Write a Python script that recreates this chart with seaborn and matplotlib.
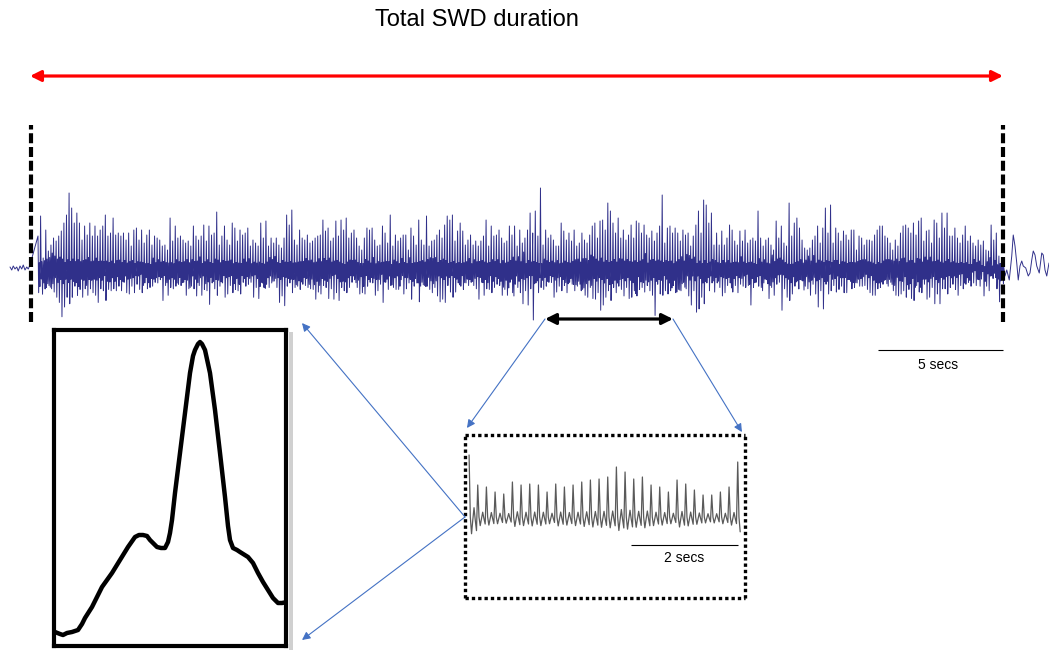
import numpy as np
import pandas as pd
import matplotlib
matplotlib.use("Agg")
import matplotlib.pyplot as plt
import seaborn as sns
from matplotlib.patches import ConnectionPatch, Rectangle

# ---------------- data ----------------
swd_start_s = 0.0
swd_end_s = 38.88
zoom_window_s = [20.56, 25.68]

# spike peak amplitudes along the SWD (arbitrary units), read left to right
spike_amp_1 = [32, 52, 10, 38, 17, 23, 30, 27, 32, 37, 45, 53, 75, 60, 45, 55, 45, 28, 42, 33,
               45, 32, 42, 32, 38, 42, 53, 32, 35, 50, 33, 35, 32, 35, 28, 35, 22, 38, 40, 28,
               38, 25, 33, 38, 23, 32, 30, 28, 22, 23, 18, 50, 27, 42, 30, 32]
spike_amp_2 = [28, 25, 27, 22, 42, 32, 28, 32, 43, 27, 42, 33, 35, 56, 23, 32, 42, 28, 23, 45,
               40, 27, 38, 33, 35, 40, 22, 28, 25, 22, 45, 30, 47, 22, 30, 25, 30, 23, 20, 30,
               53, 43, 58, 28, 23, 38, 30, 28, 33, 25, 27, 30, 32, 33, 48, 37, 40, 27, 30, 47,
               32, 48, 38, 50, 30, 35, 38]
spike_amp_3 = [30, 22, 18, 30, 40, 38, 40, 28, 22, 23, 42, 35, 25, 53, 22, 33, 27, 30, 33, 33,
               18, 40, 32, 23, 48, 28, 23, 52, 22, 27, 28, 33, 38, 30, 43, 52, 48, 53, 27, 37,
               45, 37, 23, 28, 33, 23, 27, 22, 27, 32, 48, 22, 42, 32, 33, 38, 30, 25, 27, 42, 33]
spike_amp_4 = [42, 22, 38, 25, 30, 38, 55, 35, 57, 32, 80, 23, 38, 30, 33, 28, 22, 22, 45, 37,
               28, 35, 27, 38, 22, 25, 35, 28, 25, 33, 42, 45, 30, 47, 48, 38, 65, 57, 45, 35,
               50, 30, 38, 28, 33, 43, 30, 47, 45, 35, 43, 33, 30, 37, 27, 35, 42, 73, 25, 40,
               42, 35, 40, 35, 27, 38]
spike_amp_5 = [33, 35, 22, 32, 43, 57, 35, 68, 63, 45, 55, 23, 35, 23, 37, 23, 30, 43, 38, 27,
               23, 37, 27, 38, 25, 28, 30, 27, 57, 30, 22, 28, 30, 23, 18, 47, 30, 42, 25, 22,
               65, 32, 45, 50, 40, 28, 20, 18, 20, 28, 32, 42, 25, 40, 60, 35, 63, 25, 40, 35,
               27, 37, 33, 28, 38]
spike_amp_6 = [38, 18, 32, 30, 23, 28, 28, 27, 33, 38, 42, 42, 32, 30, 25, 18, 28, 22, 35, 42,
               43, 40, 35, 45, 33, 47, 50, 27, 37, 38, 25, 48, 45, 30, 55, 40, 55, 32, 32, 40,
               30, 25, 33, 42, 27, 32, 25, 22, 28, 23, 27, 18, 17, 43, 28, 35, 12, 8]
# shape of one spike-wave cycle: fraction of a spike amplitude, and which neighbouring
# spike's amplitude sets each phase (peak, trough, wave, dip)
spike_wave_shape = [1.0, -0.65, 0.2, -0.35]
spike_wave_lag = [0, 3, 7, 11]

# background EEG before and after the discharge
pre_t = [-0.84, -0.77, -0.71, -0.64, -0.57, -0.51, -0.44, -0.37, -0.31, -0.24, -0.17, -0.11, -0.04]
pre_v = [1, -2, 2, -1, 1, -3, 2, -1, 3, -2, 1, -1, 3]
post_t = [38.89, 38.96, 39.03, 39.13, 39.23, 39.29, 39.36, 39.43, 39.49, 39.56, 39.63, 39.69,
          39.79, 39.89, 39.96, 40.03, 40.09, 40.16, 40.23, 40.33, 40.43, 40.49, 40.56, 40.63, 40.72]
post_v = [5, -8, -2, -12, 12, 33, 22, 5, -12, 2, 7, 2, 0, -8, -5, 8, 17, 13, 2, -5, 15, 13, -2, -8, 5]

# expanded 5-s window
inset_amp = [62, 32, 30, 25, 23, 35, 32, 33, 32, 25, 33, 30, 32, 35, 37, 38, 40, 50, 45, 38,
             40, 32, 30, 25, 37, 33, 27, 22, 22, 25, 30, 55]
inset_shape = [1.0, 0.0, -0.27, -0.05, 0.15, -0.05, -0.22]

# averaged spike-wave complex
complex_t = [3, 8, 11, 15, 20, 26, 30, 33, 40, 50, 60, 68, 76, 83, 87, 91, 95, 98, 102, 105, 109, 113,
             116, 118, 120, 123, 128, 133, 138, 141, 143, 146, 148, 150, 153, 158, 163, 168, 173, 176,
             178, 181, 185, 188, 196, 201, 206, 211, 216, 221, 224, 226, 230, 235]
complex_v = [16, 14, 13, 15, 16, 18, 24, 30, 41, 61, 75, 88, 101, 111, 113, 113, 112, 108, 104, 101, 100, 100,
             106, 115, 128, 155, 195, 235, 275, 292, 298, 304, 306, 304, 298, 275, 238, 195, 151, 122,
             108, 100, 98, 96, 91, 85, 75, 66, 58, 50, 47, 45, 45, 46]

scale_main_s = 5
scale_inset_s = 2

# ---------------- build traces ----------------
amps = np.array(spike_amp_1 + spike_amp_2 + spike_amp_3 + spike_amp_4 + spike_amp_5 + spike_amp_6, float)
n = len(amps)
k = len(spike_wave_shape)
peak_t = np.linspace(swd_start_s + 0.28, swd_end_s - 0.06, n)
period = peak_t[1] - peak_t[0]
swd_t = (peak_t[:, None] + np.arange(k)[None, :] * period / k).ravel()
idx = (np.arange(n)[:, None] + np.array(spike_wave_lag)[None, :]) % n
swd_v = (amps[idx] * np.array(spike_wave_shape)[None, :]).ravel()
main_df = pd.DataFrame({"t": np.concatenate([pre_t, swd_t, post_t]),
                        "v": np.concatenate([pre_v, swd_v, post_v])})

ia = np.array(inset_amp, float)
ki = len(inset_shape)
ipeak = np.linspace(zoom_window_s[0] + 0.02, zoom_window_s[1] - 0.08, len(ia))
ip = ipeak[1] - ipeak[0]
in_t = (ipeak[:, None] + np.arange(ki)[None, :] * ip / ki).ravel()[:-ki + 3]
in_v = (ia[:, None] * np.array(inset_shape)[None, :]).ravel()[:-ki + 3]
inset_df = pd.DataFrame({"t": in_t, "v": in_v})

cx_df = pd.DataFrame({"t": complex_t, "v": complex_v})

# ---------------- figure ----------------
sns.set_theme(style="white")
plt.rcParams["font.family"] = ["Liberation Sans", "DejaVu Sans"]

W, H = 1049, 650
fig = plt.figure(figsize=(W / 100, H / 100), dpi=100)
fig.patch.set_facecolor("white")

# main axes covers whole figure: 25 px per second, 1 px per unit
ax = fig.add_axes([0, 0, 1, 1])
ax.set_xlim(-31 / 25, 1018 / 25)
ax.set_ylim(-382, 268)
ax.axis("off")

sns.lineplot(data=main_df, x="t", y="v", ax=ax, color="#30308a", lw=0.7,
             estimator=None, sort=False, legend=False)

ax.text(17.84, 248, "Total SWD duration", ha="center", va="center", fontsize=17, color="black")
ax.annotate("", xy=(swd_start_s - 0.04, 192), xytext=(swd_end_s, 192),
            arrowprops=dict(arrowstyle="<|-|>", color="red", lw=2.3, mutation_scale=16,
                            shrinkA=0, shrinkB=0))
ax.vlines([swd_start_s, swd_end_s], ymin=-54, ymax=143, colors="black", lw=3,
          linestyles=[(0, (2.4, 0.9))])
ax.annotate("", xy=(zoom_window_s[0], -51), xytext=(zoom_window_s[1], -51),
            arrowprops=dict(arrowstyle="<|-|>", color="black", lw=2.3, mutation_scale=16,
                            shrinkA=0, shrinkB=0))
ax.hlines(-82, swd_end_s - scale_main_s, swd_end_s, colors="black", lw=0.8)
ax.text(swd_end_s - scale_main_s / 2 - 0.1, -97, f"{scale_main_s} secs", ha="center", va="center",
        fontsize=10, color="black")

# inset (dotted box)
pxs = 274 / (zoom_window_s[1] - zoom_window_s[0])
axi = fig.add_axes([465 / W, (H - 598) / H, 280 / W, 163 / H])
axi.set_xlim(zoom_window_s[0] - 3 / pxs, zoom_window_s[1] + 3 / pxs)
axi.set_ylim(-81, 82)
sns.lineplot(data=inset_df, x="t", y="v", ax=axi, color="#5a5a5a", lw=0.9,
             estimator=None, sort=False, legend=False)
axi.set_xticks([]); axi.set_yticks([])
axi.set_xlabel(""); axi.set_ylabel("")
axi.patch.set_alpha(0)
for s in axi.spines.values():
    s.set_visible(True)
    s.set_color("black")
    s.set_linewidth(2.4)
    s.set_linestyle((0, (1, 0.9)))
    s.set_capstyle("butt")
axi.hlines(-28, zoom_window_s[1] - 0.08 - scale_inset_s, zoom_window_s[1] - 0.08, colors="black", lw=0.8)
axi.text(zoom_window_s[1] - 0.08 - scale_inset_s / 2, -41, f"{scale_inset_s} secs", ha="center",
         va="center", fontsize=10, color="black")

# left: averaged complex
fig.patches.append(Rectangle((289 / W, (H - 650) / H), 4 / W, 318 / H, transform=fig.transFigure,
                             facecolor="#d0d0d0", edgecolor="none", zorder=0))
axc = fig.add_axes([54 / W, (H - 646) / H, 232 / W, 316 / H])
axc.set_xlim(2, 234)
axc.set_ylim(2, 318)
sns.lineplot(data=cx_df, x="t", y="v", ax=axc, color="black", lw=3.2,
             estimator=None, sort=False, legend=False)
axc.lines[-1].set_solid_joinstyle("round")
axc.lines[-1].set_solid_capstyle("round")
axc.set_xticks([]); axc.set_yticks([])
axc.set_xlabel(""); axc.set_ylabel("")
for s in axc.spines.values():
    s.set_visible(True)
    s.set_color("black")
    s.set_linewidth(3)

# connectors
blue = "#4472c4"
cp_kw = dict(arrowstyle="-|>", color=blue, lw=0.8, mutation_scale=12, shrinkA=0, shrinkB=0)
fig.add_artist(ConnectionPatch(xyA=(zoom_window_s[0], -51), coordsA=ax.transData,
                               xyB=(0.007, 1.043), coordsB=axi.transAxes, **cp_kw))
fig.add_artist(ConnectionPatch(xyA=(zoom_window_s[1], -51), coordsA=ax.transData,
                               xyB=(0.989, 1.018), coordsB=axi.transAxes, **cp_kw))
fig.add_artist(ConnectionPatch(xyA=(0.0, 0.497), coordsA=axi.transAxes,
                               xyB=(1.069, 1.022), coordsB=axc.transAxes, **cp_kw))
fig.add_artist(ConnectionPatch(xyA=(0.0, 0.497), coordsA=axi.transAxes,
                               xyB=(1.069, 0.019), coordsB=axc.transAxes, **cp_kw))

fig.savefig("out.png", dpi=100, facecolor="white")
